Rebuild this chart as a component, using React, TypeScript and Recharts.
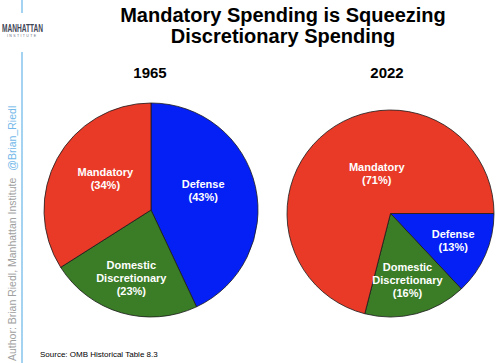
import React from 'react';
import { PieChart, Pie, Cell } from 'recharts';

const sliceNames = ['Defense', 'Domestic Discretionary', 'Mandatory'];
const values1965 = [43, 23, 34];
const values2022 = [13, 16, 71];
const years = ['1965', '2022'];
const titleLines = ['Mandatory Spending is Squeezing', 'Discretionary Spending'];
const sourceText = 'Source: OMB Historical Table 8.3';
const authorText = 'Author: Brian Riedl, Manhattan Institute';
const handleText = '@Brian_Riedl';

const COLORS: Record<string, string> = {
  Defense: '#0520F5',
  'Domestic Discretionary': '#3A7D26',
  Mandatory: '#E93A28',
};

const FONT = "Arial, 'Liberation Sans', Helvetica, sans-serif";
const RAD = Math.PI / 180;

const data1965 = sliceNames.map((name, i) => ({ name, value: values1965[i] }));
const data2022 = sliceNames.map((name, i) => ({ name, value: values2022[i] }));

const renderLabel = (props: any) => {
  const { cx, cy, midAngle, outerRadius, percent, name, value } = props;
  const f = percent > 0.5 ? 0.41 : percent > 0.3 ? 0.52 : 0.66;
  const k = percent > 0.5 ? 0.5 : percent > 0.3 ? 0.9 : 1;
  let a = ((midAngle % 360) + 360) % 360;
  if (a > 270) a -= 360;
  const ang = percent > 0.3 ? 90 + (a - 90) * k : a;
  const r = outerRadius * f;
  const x = cx + r * Math.cos(-ang * RAD);
  const y = cy + r * Math.sin(-ang * RAD);
  const lines = [...String(name).split(' '), `(${value}%)`];
  const lh = 13;
  const y0 = y - ((lines.length - 1) * lh) / 2;
  return (
    <text
      x={x}
      y={y0}
      fill="#ffffff"
      fontFamily={FONT}
      fontWeight="bold"
      fontSize={11}
      textAnchor="middle"
      dominantBaseline="central"
    >
      {lines.map((l, i) => (
        <tspan key={i} x={x} y={y0 + i * lh}>
          {l}
        </tspan>
      ))}
    </text>
  );
};

export default function App() {
  return (
    <div style={{ position: 'absolute', left: 0, top: 0, width: 500, height: 363, background: '#fff' }}>
      <PieChart
        width={500}
        height={363}
        margin={{ top: 0, right: 0, bottom: 0, left: 0 }}
        style={{ position: 'absolute', left: 0, top: 0 }}
      >
        <Pie
          data={data1965}
          dataKey="value"
          nameKey="name"
          cx={151}
          cy={210}
          outerRadius={107}
          startAngle={90}
          endAngle={-270}
          stroke="#1a1a1a"
          strokeWidth={0.8}
          label={renderLabel}
          labelLine={false}
          isAnimationActive={false}
        >
          {data1965.map((d) => (
            <Cell key={d.name} fill={COLORS[d.name]} />
          ))}
        </Pie>
        <Pie
          data={data2022}
          dataKey="value"
          nameKey="name"
          cx={390.5}
          cy={213.5}
          outerRadius={103.5}
          startAngle={0}
          endAngle={-360}
          stroke="#1a1a1a"
          strokeWidth={0.8}
          label={renderLabel}
          labelLine={false}
          isAnimationActive={false}
        >
          {data2022.map((d) => (
            <Cell key={d.name} fill={COLORS[d.name]} />
          ))}
        </Pie>
      </PieChart>
      <svg
        width={500}
        height={363}
        style={{ position: 'absolute', left: 0, top: 0, pointerEvents: 'none' }}
      >
        <text x={283} y={22} textAnchor="middle" fontFamily={FONT} fontWeight="bold" fontSize={20} fill="#000">
          {titleLines[0]}
        </text>
        <text x={283} y={43} textAnchor="middle" fontFamily={FONT} fontWeight="bold" fontSize={20} fill="#000">
          {titleLines[1]}
        </text>
        <text x={150} y={78} textAnchor="middle" fontFamily={FONT} fontWeight="bold" fontSize={15} fill="#000">
          {years[0]}
        </text>
        <text x={387} y={78} textAnchor="middle" fontFamily={FONT} fontWeight="bold" fontSize={15} fill="#000">
          {years[1]}
        </text>
        <text x={40} y={357} fontFamily={FONT} fontSize={8} fill="#000">
          {sourceText}
        </text>
        <line x1={22} y1={0} x2={22} y2={13} stroke="#86C4EE" strokeWidth={1.5} />
        <line x1={22} y1={52} x2={22} y2={363} stroke="#86C4EE" strokeWidth={1.5} />
        <text
          x={2}
          y={32}
          fontFamily={FONT}
          fontWeight="bold"
          fontSize={10}
          fill="#3E4555"
          textLength={41}
          lengthAdjust="spacingAndGlyphs"
        >
          MANHATTAN
        </text>
        <text
          x={7}
          y={37}
          fontFamily={FONT}
          fontSize={3.5}
          fill="#6a7080"
          textLength={29}
          lengthAdjust="spacing"
        >
          INSTITUTE
        </text>
        <text
          transform="translate(15.7, 361) rotate(-90)"
          x={0}
          y={0}
          fontFamily={FONT}
          fontSize={10.5}
          fill="#A0A0A0"
        >
          {authorText}
          <tspan fill="#72B8EA" dx={7}>
            {handleText}
          </tspan>
        </text>
      </svg>
    </div>
  );
}
